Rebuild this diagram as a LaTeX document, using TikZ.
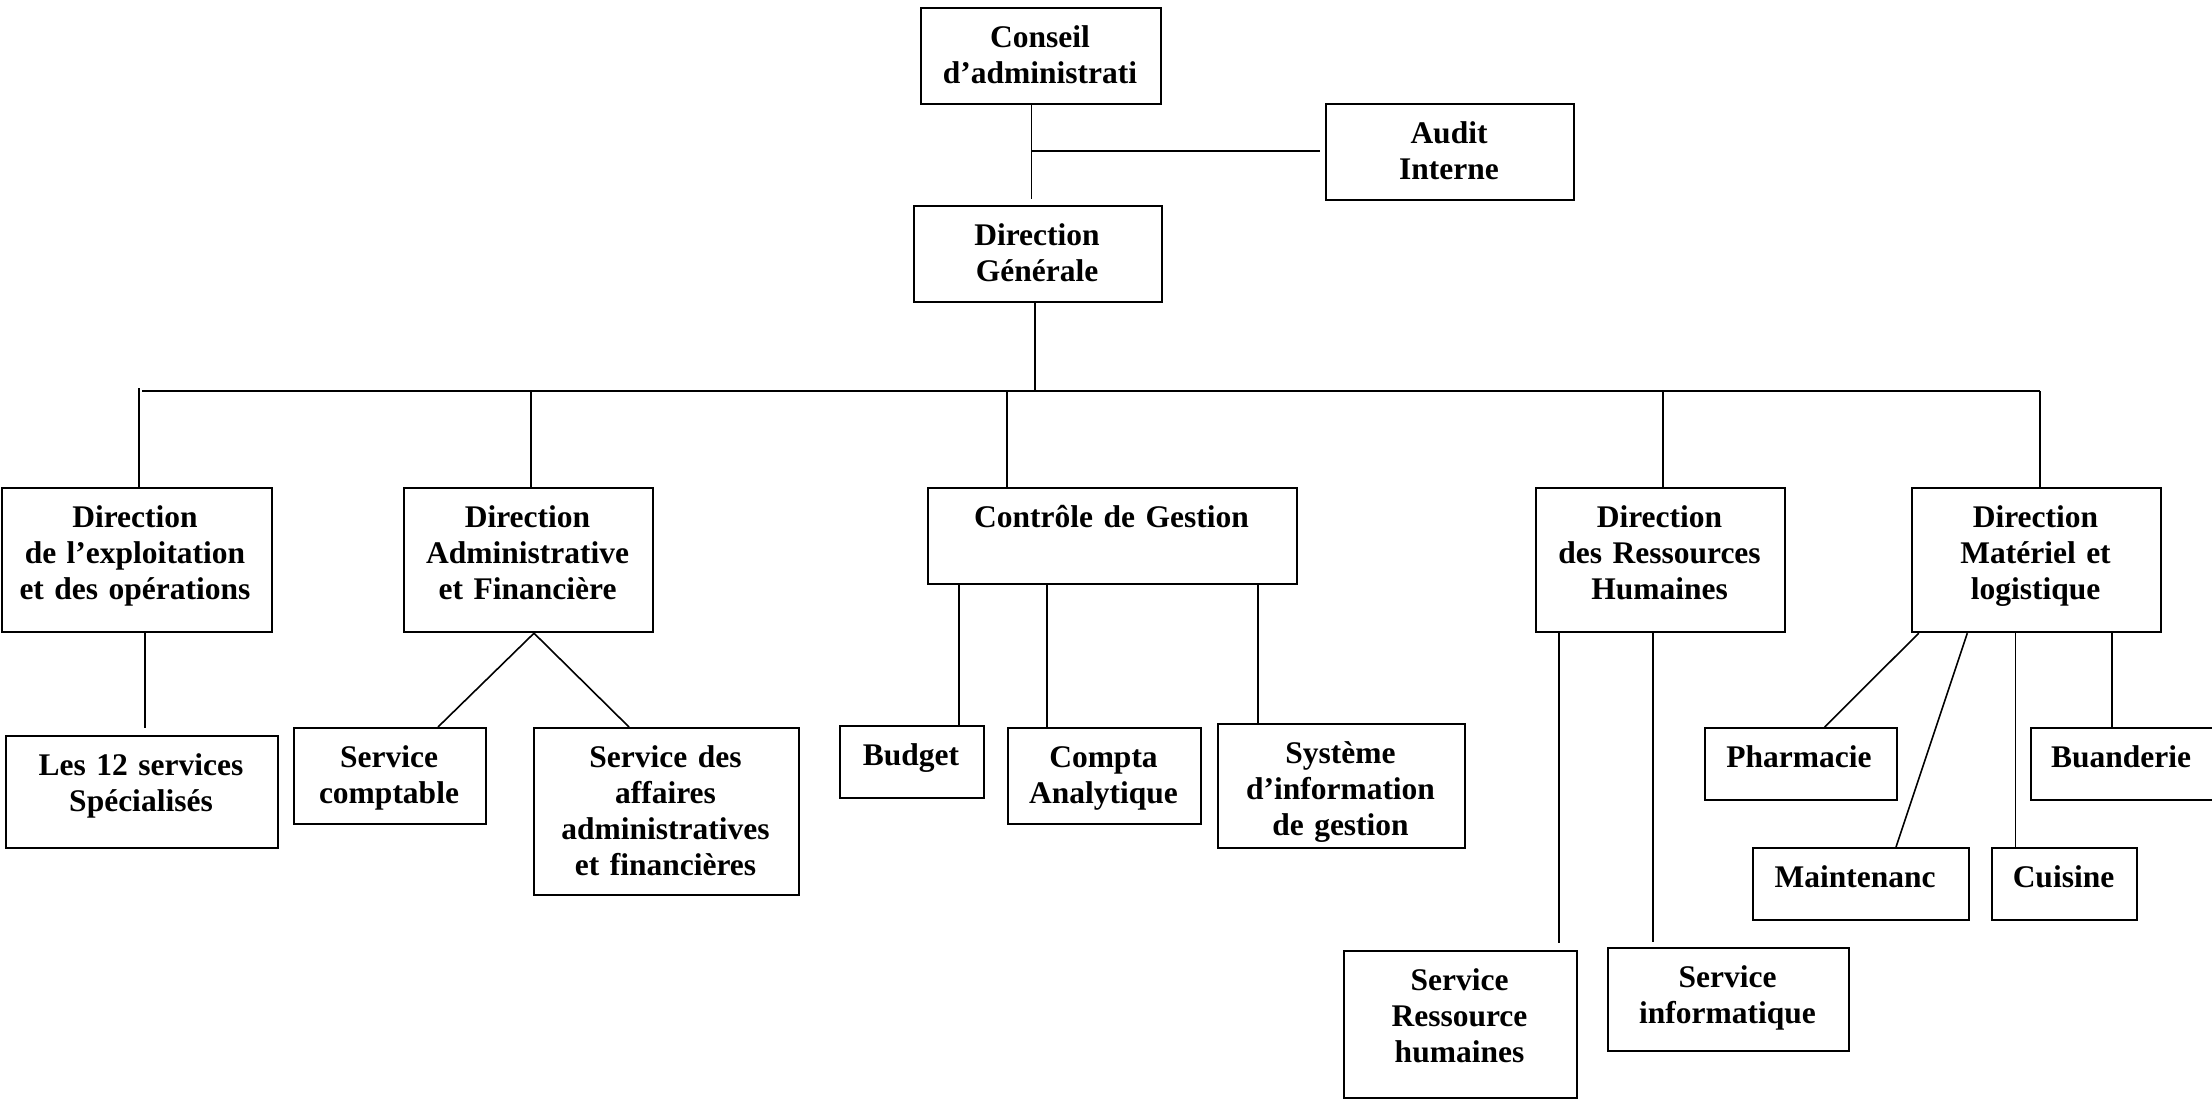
\documentclass[tikz,border=0pt]{standalone}
\usepackage{fontspec}
\setmainfont{Liberation Serif}
\usetikzlibrary{calc}
\tikzset{
  box/.style={draw=black, line width=2.2pt, anchor=north west, inner sep=0pt},
  lbl/.style={anchor=base, text width=420pt, align=center, inner sep=0pt,
    font=\bfseries\fontsize{31.5}{36.3}\selectfont},
  conn/.style={draw=black, line width=1.6pt},
  bus/.style={draw=black, line width=2.6pt}
}
\newcommand{\orgbox}[5]{% name, x0, y0, x1, y1
  \node[box, minimum width={#4-#2}, minimum height={#5-#3}] (#1) at (#2,#3) {};}
\begin{document}
\begin{tikzpicture}[x=1pt,y=-1pt]
\useasboundingbox (0,0) rectangle (2212,1098);
\fill[white] (0,0) rectangle (2212,1098);
% boxes
\orgbox{conseil}{920}{7}{1160}{103}
\orgbox{audit}{1325}{103}{1573}{199}
\orgbox{dg}{913}{205}{1161}{301}
\orgbox{dexp}{1}{487}{271}{631}
\orgbox{daf}{403}{487}{652}{631}
\orgbox{cg}{927}{487}{1296}{583}
\orgbox{drh}{1535}{487}{1784}{631}
\orgbox{dml}{1911}{487}{2160}{631}
\orgbox{ldouze}{5}{735}{277}{847}
\orgbox{scpt}{293}{727}{485}{823}
\orgbox{saf}{533}{727}{798}{894}
\orgbox{budget}{839}{725}{983}{797}
\orgbox{compta}{1007}{727}{1200}{823}
\orgbox{sig}{1217}{723}{1464}{847}
\orgbox{srh}{1343}{950}{1576}{1097}
\orgbox{si}{1607}{947}{1848}{1050}
\orgbox{pharm}{1704}{727}{1896}{799}
\orgbox{maint}{1752}{847}{1968}{919}
\orgbox{cuis}{1991}{847}{2136}{919}
\orgbox{buand}{2030}{727}{2214}{799}
% labels (first baseline 40 below box top)
\node[lbl] (tconseil) at (1040,47) {Conseil\\d’administrati};
\node[lbl] (taudit) at (1449,143) {Audit\\Interne};
\node[lbl] (tdg) at (1037,245) {Direction\\Générale};
\node[lbl] (tdexp) at (135,527) {Direction\\de l’exploitation\\et des opérations};
\node[lbl] (tdaf) at (527.5,527) {Direction\\Administrative\\et Financière};
\node[lbl] (tcg) at (1111.5,527) {Contrôle de Gestion};
\node[lbl] (tdrh) at (1659.5,527) {Direction\\des Ressources\\Humaines};
\node[lbl] (tdml) at (2035.5,527) {Direction\\Matériel et\\logistique};
\node[lbl] (tldouze) at (141,775) {Les 12 services\\Spécialisés};
\node[lbl] (tscpt) at (389,767) {Service\\comptable};
\node[lbl] (tsaf) at (665.5,767) {Service des\\affaires\\administratives\\et financières};
\node[lbl] (tbudget) at (911,765) {Budget};
\node[lbl] (tcompta) at (1103.5,767) {Compta\\Analytique};
\node[lbl] (tsig) at (1340.5,763) {Système\\d’information\\de gestion};
\node[lbl] (tsrh) at (1459.5,990) {Service\\Ressource\\humaines};
\node[lbl] (tsi) at (1727.5,987) {Service\\informatique};
\node[lbl] (tpharm) at (1799,767) {Pharmacie};
\node[lbl] (tmaint) at (1855,887) {Maintenanc};
\node[lbl] (tcuis) at (2063.5,887) {Cuisine};
\node[lbl] (tbuand) at (2121,767) {Buanderie};
% helper coordinates
\coordinate (aj) at (1031.5,151);
\coordinate (cdend) at (1031.5,199);
\coordinate (aend) at (1320,151);
\coordinate (dgb) at (1035,391);
\coordinate (busL) at (142,391);
\coordinate (busR) at (2040,391);
\coordinate (vexp) at (139,388);
\coordinate (vdaf) at (530.7,391);
\coordinate (vcg) at (1007,391);
\coordinate (vdrh) at (1663,391);
\coordinate (eend) at (145,728);
\coordinate (dafb) at (534,631);
\coordinate (dA) at (438,727);
\coordinate (dB) at (629,727);
\coordinate (cA) at (959,0);
\coordinate (cB) at (1047,0);
\coordinate (cC) at (1258,0);
\coordinate (hA) at (1559,943);
\coordinate (hB) at (1653,942);
\coordinate (mA) at (1918.7,0);
\coordinate (mB) at (1967.3,0);
\coordinate (mC) at (2015.4,0);
\coordinate (mD) at (2111.7,0);
\coordinate (pA) at (1824.7,0);
\coordinate (pB) at (1896,0);
% connectors top
\draw[conn] (conseil.south -| aj) -- (cdend);
\draw[bus] (aj) -- (aend);
\draw[conn] (dg.south -| dgb) -- (dgb);
\draw[bus] (busL) -- (busR);
\draw[conn] (vexp) -- (dexp.north -| vexp);
\draw[conn] (vdaf) -- (daf.north -| vdaf);
\draw[conn] (vcg) -- (cg.north -| vcg);
\draw[conn] (vdrh) -- (drh.north -| vdrh);
\draw[conn] (busR) -- (dml.north -| busR);
% second level
\draw[conn] (dexp.south -| eend) -- (eend);
\draw[conn] (daf.south -| dafb) -- (dA);
\draw[conn] (daf.south -| dafb) -- (dB);
\draw[conn] (cg.south -| cA) -- (budget.north -| cA);
\draw[conn] (cg.south -| cB) -- (compta.north -| cB);
\draw[conn] (cg.south -| cC) -- (sig.north -| cC);
\draw[conn] (drh.south -| hA) -- (hA);
\draw[conn] (drh.south -| hB) -- (hB);
\draw[conn] (dml.south -| mA) -- (pharm.north -| pA);
\draw[conn] (dml.south -| mB) -- (maint.north -| pB);
\draw[conn] (dml.south -| mC) -- (cuis.north -| mC);
\draw[conn] (dml.south -| mD) -- (buand.north -| mD);
\end{tikzpicture}
\end{document}
